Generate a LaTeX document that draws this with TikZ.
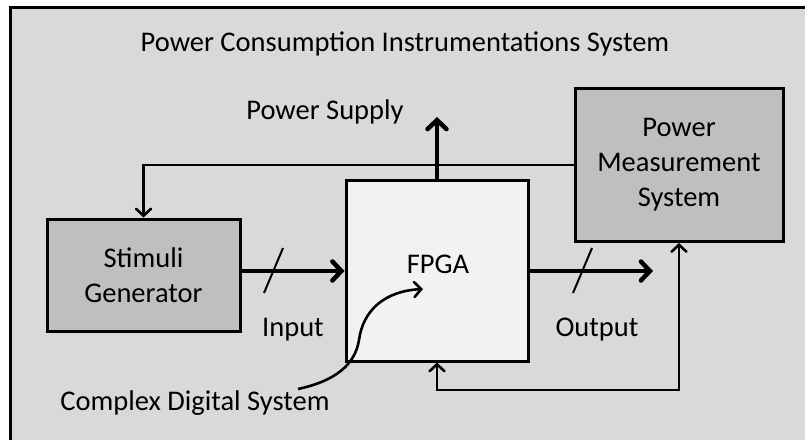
\documentclass[tikz,border=0pt]{standalone}
\usepackage{fontspec}
\setmainfont{Carlito}
\usetikzlibrary{arrows.meta,calc}
\definecolor{bggray}{HTML}{D9D9D9}
\definecolor{boxgray}{HTML}{BFBFBF}
\definecolor{fpgafill}{HTML}{F2F2F2}
\begin{document}
\begin{tikzpicture}[x=1pt,y=-1pt,
  lbl/.style={font=\fontsize{28.5}{35}\selectfont, inner sep=0pt, align=center},
  blk/.style={draw=black, line width=3pt, inner sep=0pt, align=center,
              font=\fontsize{28.5}{35}\selectfont},
  thick arrow/.style={line width=4.5pt, -{Straight Barb[length=9pt,width=19pt,line cap=round]}},
  thin arrow/.style={line width=2.6pt, -{Straight Barb[length=7pt,width=15pt,line cap=round]}},
  slash/.style={line width=2pt}]
\useasboundingbox (0,0) rectangle (805,439);
\clip (0,0) rectangle (805,439);
\draw[line width=3pt, fill=bggray] (10,7) rectangle (830,460);
\node[lbl] (title) at (405,44) {Power Consumption Instrumentations System};
\node[blk, fill=boxgray, minimum width=208pt, minimum height=153pt] (pms) at (679,165)
  {Power\\Measurement\\System};
\node[blk, fill=boxgray, minimum width=193pt, minimum height=112pt] (stim) at (143.5,275)
  {Stimuli\\Generator};
\node[blk, fill=fpgafill, minimum width=182pt, minimum height=181pt] (fpga) at (437,270.5) {};
\node[lbl] (fpgatxt) at (438,264) {FPGA};
\node[lbl] (ps) at (325,112) {Power Supply};
\node[lbl] (inp) at (293,330) {Input};
\node[lbl] (outp) at (597,330) {Output};
\node[lbl] (cds) at (195,403) {Complex Digital System};
\coordinate (iny) at (0,271);
\coordinate (pstop) at (437,117);
\coordinate (outend) at (653,271);
\coordinate (loopc) at (679,390);
\coordinate (curvestart) at (298,389);
\coordinate (curveend) at (423,289);
% feedback to stimuli
\draw[thin arrow] (pms.west) -| (stim.north);
% power supply
\draw[thick arrow] (fpga.north) -- (pstop);
% input
\draw[thick arrow] (stim.east |- iny) -- (fpga.west |- iny);
\draw[slash] (283,248) -- (264,293);
% output
\draw[thick arrow] (fpga.east |- iny) -- (outend);
\draw[slash] (592,248) -- (573,293);
% bottom loop
\draw[line width=2.6pt, {Straight Barb[length=7pt,width=15pt,line cap=round]}-{Straight Barb[length=7pt,width=15pt,line cap=round]}]
  (fpga.south) |- (loopc) -- (pms.south);
% curved arrow
\draw[thin arrow] (curvestart) .. controls (335,381) and (355,365) .. (359,340)
  .. controls (363,310) and (385,291) .. (curveend);
\end{tikzpicture}
\end{document}
